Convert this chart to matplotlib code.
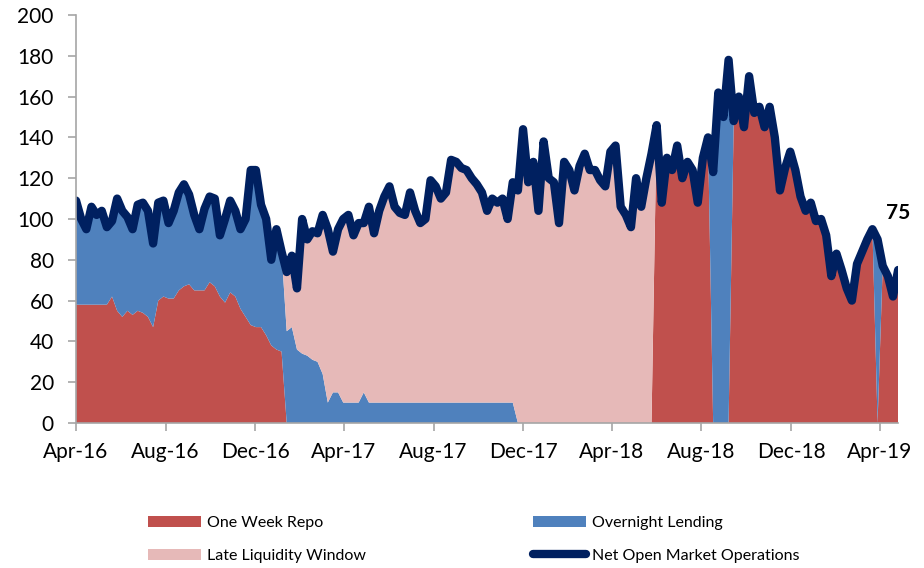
import matplotlib.pyplot as plt
import matplotlib.dates as mdates
import pandas as pd

# weekly observations, Apr-2016 .. Apr-2019
dates = pd.date_range('2016-04-01', periods=161, freq='7D')

net_omo = [
    109, 100, 95, 106, 102, 104, 96, 99, 110, 104,
    101, 95, 107, 108, 104, 88, 108, 109, 98, 104,
    113, 117, 112, 102, 95, 105, 111, 110, 92, 100,
    109, 104, 95, 100, 124, 124, 107, 100, 80, 95,
    84, 74, 82, 66, 100, 90, 94, 93, 102, 95,
    84, 95, 100, 102, 92, 98, 98, 106, 93, 104,
    111, 116, 106, 103, 102, 113, 104, 98, 100, 119,
    116, 110, 113, 129, 128, 125, 124, 120, 117, 113,
    104, 110, 108, 110, 100, 118, 114, 144, 118, 128,
    104, 138, 120, 118, 98, 128, 124, 114, 126, 132,
    124, 124, 119, 116, 133, 136, 106, 102, 96, 120,
    106, 120, 132, 146, 108, 130, 124, 136, 120, 128,
    124, 108, 130, 140, 123, 162, 150, 178, 148, 160,
    145, 170, 152, 155, 145, 155, 140, 114, 125, 133,
    124, 111, 104, 108, 99, 100, 92, 72, 83, 75,
    66, 60, 78, 84, 90, 95, 90, 77, 72, 62,
    75,
]

one_week_repo = [
    58, 58, 58, 58, 58, 58, 58, 62, 55, 52,
    55, 53, 55, 54, 52, 47, 60, 62, 61, 61,
    65, 67, 68, 65, 65, 65, 69, 67, 62, 59,
    64, 62, 56, 52, 48, 47, 47, 43, 38, 36,
    35, 0, 0, 0, 0, 0, 0, 0, 0, 0,
    0, 0, 0, 0, 0, 0, 0, 0, 0, 0,
    0, 0, 0, 0, 0, 0, 0, 0, 0, 0,
    0, 0, 0, 0, 0, 0, 0, 0, 0, 0,
    0, 0, 0, 0, 0, 0, 0, 0, 0, 0,
    0, 0, 0, 0, 0, 0, 0, 0, 0, 0,
    0, 0, 0, 0, 0, 0, 0, 0, 0, 0,
    0, 0, 0, 146, 108, 130, 124, 136, 120, 128,
    124, 108, 130, 140, 0, 0, 0, 0, 148, 160,
    145, 170, 152, 155, 145, 155, 140, 114, 125, 133,
    124, 111, 104, 108, 99, 100, 92, 72, 83, 75,
    66, 60, 78, 84, 90, 95, 0, 77, 72, 62,
    75,
]

overnight_lending = [
    51, 42, 37, 48, 44, 46, 38, 37, 55, 52,
    46, 42, 52, 54, 52, 41, 48, 47, 37, 43,
    48, 50, 44, 37, 30, 40, 42, 43, 30, 41,
    45, 42, 39, 48, 76, 77, 60, 57, 42, 59,
    49, 45, 47, 36, 34, 33, 31, 30, 24, 10,
    15, 15, 10, 10, 10, 10, 15, 10, 10, 10,
    10, 10, 10, 10, 10, 10, 10, 10, 10, 10,
    10, 10, 10, 10, 10, 10, 10, 10, 10, 10,
    10, 10, 10, 10, 10, 10, 0, 0, 0, 0,
    0, 0, 0, 0, 0, 0, 0, 0, 0, 0,
    0, 0, 0, 0, 0, 0, 0, 0, 0, 0,
    0, 0, 0, 0, 0, 0, 0, 0, 0, 0,
    0, 0, 0, 0, 123, 162, 150, 178, 0, 0,
    0, 0, 0, 0, 0, 0, 0, 0, 0, 0,
    0, 0, 0, 0, 0, 0, 0, 0, 0, 0,
    0, 0, 0, 0, 0, 0, 90, 0, 0, 0,
    0,
]

late_liquidity = [
    0, 0, 0, 0, 0, 0, 0, 0, 0, 0,
    0, 0, 0, 0, 0, 0, 0, 0, 0, 0,
    0, 0, 0, 0, 0, 0, 0, 0, 0, 0,
    0, 0, 0, 0, 0, 0, 0, 0, 0, 0,
    0, 29, 35, 30, 66, 57, 63, 63, 78, 85,
    69, 80, 90, 92, 82, 88, 83, 96, 83, 94,
    101, 106, 96, 93, 92, 103, 94, 88, 90, 109,
    106, 100, 103, 119, 118, 115, 114, 110, 107, 103,
    94, 100, 98, 100, 90, 108, 114, 144, 118, 128,
    104, 138, 120, 118, 98, 128, 124, 114, 126, 132,
    124, 124, 119, 116, 133, 136, 106, 102, 96, 120,
    106, 120, 132, 0, 0, 0, 0, 0, 0, 0,
    0, 0, 0, 0, 0, 0, 0, 0, 0, 0,
    0, 0, 0, 0, 0, 0, 0, 0, 0, 0,
    0, 0, 0, 0, 0, 0, 0, 0, 0, 0,
    0, 0, 0, 0, 0, 0, 0, 0, 0, 0,
    0,
]

last_label = '75'

plt.rcParams['font.family'] = ['Lato', 'DejaVu Sans']

fig = plt.figure(figsize=(9.24, 5.68), dpi=100)
ax = fig.add_axes([0.0823, 0.2553, 0.8897, 0.7183])

polys = ax.stackplot(dates, one_week_repo, overnight_lending, late_liquidity,
                     colors=['#C0504D', '#4F81BD', '#E6B9B8'], linewidth=0)
line, = ax.plot(dates, net_omo, color='#002060', linewidth=6,
                solid_joinstyle='round', solid_capstyle='round')

ax.set_ylim(0, 200)
ax.set_yticks(range(0, 201, 20))
ax.set_xlim(dates[0], dates[-1])
ax.xaxis.set_major_locator(mdates.MonthLocator(bymonth=[4, 8, 12]))
ax.xaxis.set_major_formatter(mdates.DateFormatter('%b-%y'))

for s in ['top', 'right']:
    ax.spines[s].set_visible(False)
for s in ['left', 'bottom']:
    ax.spines[s].set_color('#A6A6A6')
    ax.spines[s].set_linewidth(1.2)
ax.tick_params(axis='both', colors='#A6A6A6', labelcolor='black', labelsize=15,
               length=6, width=1.2)
ax.tick_params(axis='y', pad=10)
ax.tick_params(axis='x', pad=8)

ax.text(dates[-1], 103, last_label, ha='center', va='center',
        fontsize=15, fontweight='bold')

fig.legend([polys[0], polys[2], polys[1], line],
           ['One Week Repo', 'Late Liquidity Window', 'Overnight Lending',
            'Net Open Market Operations'],
           ncol=2, loc='lower left', bbox_to_anchor=(0.145, -0.016),
           frameon=False, fontsize=11.5, handlelength=3.3, handleheight=0.7,
           columnspacing=10.5, labelspacing=1.15, handletextpad=0.35)

fig.savefig('out.png', dpi=100)
